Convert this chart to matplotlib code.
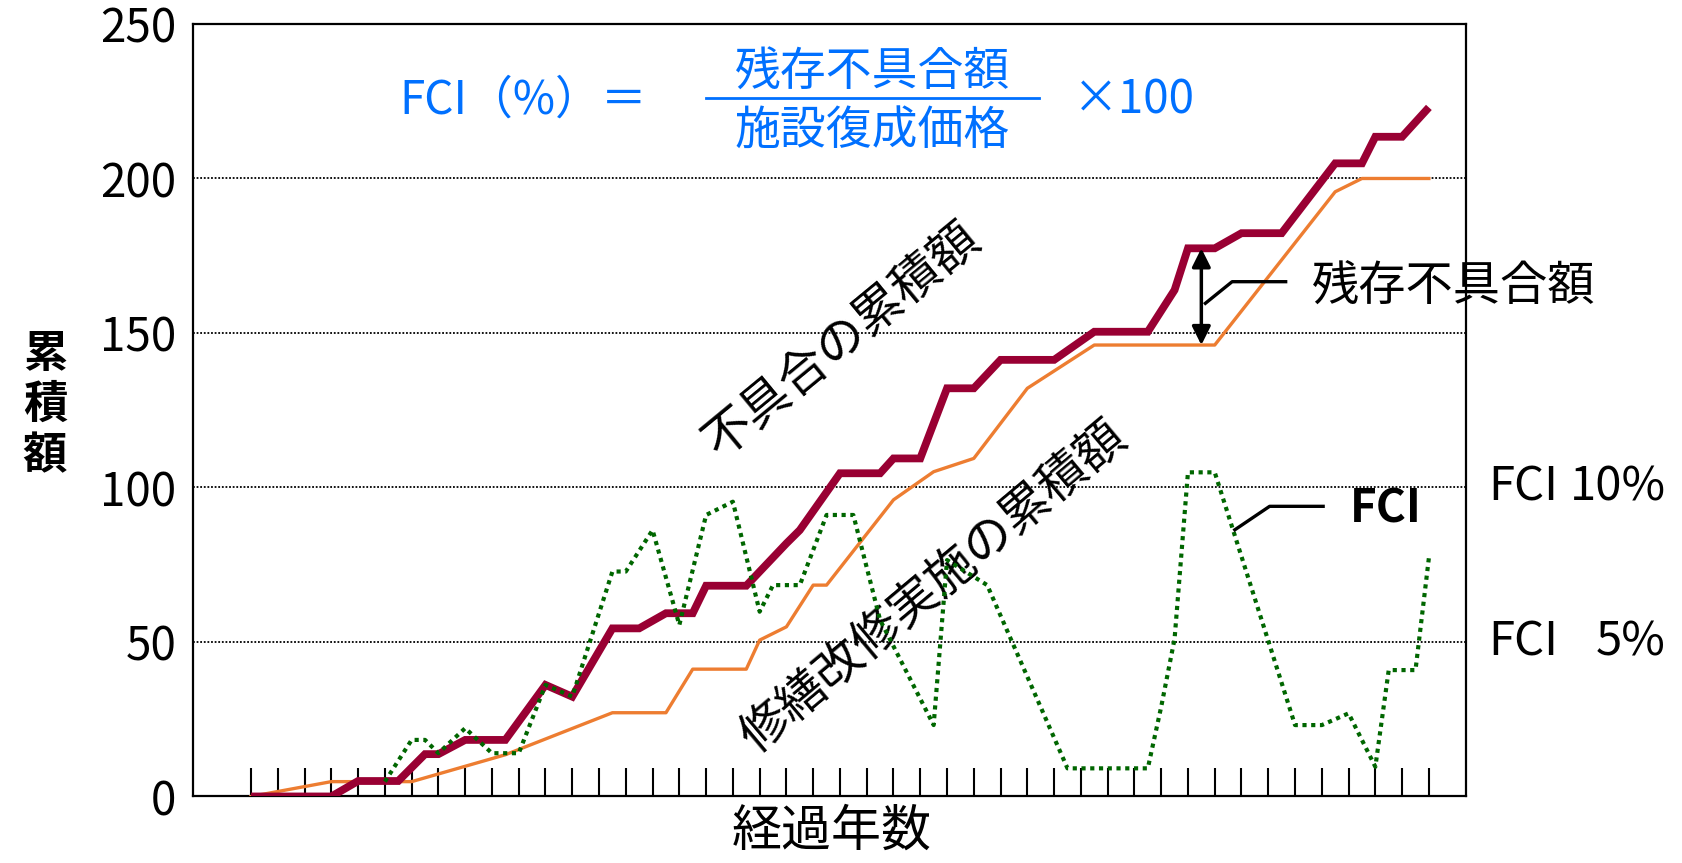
import matplotlib
matplotlib.use("Agg")
import matplotlib.pyplot as plt

plt.rcParams['font.family'] = ['Noto Sans CJK JP', 'DejaVu Sans']

# ── Data (x in years, half-year resolution) ───────────────────────────────
defect_years = [0, 3, 4, 5.5, 6.5, 7, 8, 9.5, 11, 12, 13.5, 14.5, 15.5, 16.5, 17,
                18.5, 20, 20.5, 22, 23.5, 24, 25, 26, 27, 28, 30, 31.5, 33.5, 34.5,
                35, 36, 37, 38.5, 40.5, 41.5, 42, 43, 44]
defect_cum = [0, 0, 5, 5, 13.7, 13.7, 18.3, 18.3, 36.1, 32.3, 54.4, 54.4, 59.3, 59.3,
              68.2, 68.2, 81.9, 86.2, 104.6, 104.6, 109.4, 109.4, 132.1, 132.1, 141.3,
              141.3, 150.4, 150.4, 163.9, 177.4, 177.4, 182.3, 182.3, 204.9, 204.9,
              213.5, 213.5, 223]

repair_years = [0, 3, 6, 9.5, 13.5, 15.5, 16.5, 18.5, 19, 20, 21, 21.5, 24, 25.5, 27,
                29, 31.5, 36, 40.5, 41.5, 44]
repair_cum = [0, 4.8, 4.8, 13.5, 27.1, 27.1, 41.2, 41.2, 50.6, 54.9, 68.4, 68.4, 96.0,
              105.1, 109.4, 132.1, 146.1, 146.1, 195.7, 200, 200]

fci_years = [5, 6, 6.5, 7, 8, 9, 10, 11, 12, 13.5, 14, 15, 16, 17, 18, 19, 19.5, 20.5,
             21.5, 22.5, 23.5, 25.5, 26, 27.5, 30.5, 33.5, 34, 34.5, 35, 36, 39, 40,
             41, 42, 42.5, 43.5, 44]
fci_vals = [4.8, 18.3, 18.3, 14.0, 22.1, 14.0, 14.0, 36.1, 32.3, 72.8, 72.8, 86.2, 55.5,
            91.1, 95.4, 59.8, 68.4, 68.4, 91.1, 91.1, 57.1, 23.1, 76.5, 68.4, 9.1, 9.1,
            29, 51, 104.9, 104.9, 23.1, 23.1, 26.9, 9.6, 40.9, 40.9, 77.2]

n_years = 44
y_ticks = [0, 50, 100, 150, 200, 250]
grid_levels = [50, 100, 150, 200]

RED = '#990033'
ORANGE = '#ED7D31'
GREEN = '#006600'
BLUE = '#0070FF'

# ── Figure ────────────────────────────────────────────────────────────────
fig = plt.figure(figsize=(16.83, 8.63), dpi=100)
ax = fig.add_axes([0.1148, 0.0771, 0.7560, 0.8951])

for lv in grid_levels:
    ax.axhline(lv, color='black', lw=1.3, ls=(0, (1, 1)), zorder=1)

ax.plot(repair_years, repair_cum, color=ORANGE, lw=2.4, zorder=3)
ax.plot(defect_years, defect_cum, color=RED, lw=5.6, zorder=4,
        solid_joinstyle='miter', solid_capstyle='butt')
ax.plot(fci_years, fci_vals, color=GREEN, lw=3.0, ls=(0, (1, 1.1)), zorder=5,
        dash_capstyle='butt')

ax.set_xlim(-2.16, 45.37)
ax.set_ylim(0, 250)
ax.set_xticks(range(n_years + 1))
ax.set_xticklabels([])
ax.tick_params(axis='x', direction='in', length=20, width=1.5, color='black')
ax.set_yticks(y_ticks)
ax.set_yticklabels([str(v) for v in y_ticks], fontsize=33)
ax.tick_params(axis='y', length=0, pad=12)
for s in ax.spines.values():
    s.set_linewidth(1.6)
    s.set_color('black')

# ── Formula ───────────────────────────────────────────────────────────────
ax.text(0.1618, 0.9016, 'FCI（%）＝', transform=ax.transAxes, color=BLUE,
        fontsize=33, ha='left', va='center')
ax.text(0.5339, 0.9366, '残存不具合額', transform=ax.transAxes, color=BLUE,
        fontsize=33, ha='center', va='center')
ax.text(0.5339, 0.8616, '施設復成価格', transform=ax.transAxes, color=BLUE,
        fontsize=33, ha='center', va='center')
ax.plot([0.4029, 0.6648], [0.9036, 0.9036], transform=ax.transAxes, color=BLUE,
        lw=2, clip_on=False)
ax.text(0.6915, 0.9016, '×100', transform=ax.transAxes, color=BLUE,
        fontsize=33, ha='left', va='center')

# ── Series labels ────────────────────────────────────────────────────────
ax.text(22.08, 147.7, '不具合の累積額', fontsize=35, rotation=39.5,
        rotation_mode='anchor', ha='center', va='center')
ax.text(25.48, 67.5, '修繕改修実施の累積額', fontsize=35, rotation=40,
        rotation_mode='anchor', ha='center', va='center')

# Residual arrow + leader
ax.annotate('', xy=(35.5, 177.4), xytext=(35.5, 146.1),
            arrowprops=dict(arrowstyle='<|-|>', lw=2.5, color='black',
                            mutation_scale=28, shrinkA=0, shrinkB=0), zorder=6)
ax.plot([35.65, 36.65, 38.65], [159.6, 166.6, 166.6], color='black', lw=2.4, zorder=6)
ax.text(39.65, 164.6, '残存不具合額', fontsize=34, ha='left', va='center',
        clip_on=False, zorder=7)

# FCI leader
ax.plot([36.75, 38.05, 40.05], [86.3, 93.9, 93.9], color='black', lw=2.4, zorder=6)
ax.text(41.05, 92.9, 'FCI', fontsize=33, fontweight='bold', ha='left', va='center')

# Right-hand FCI level labels
yx = ax.get_yaxis_transform()
ax.text(1.0176, 100, 'FCI', transform=yx, fontsize=34, ha='left', va='center',
        clip_on=False)
ax.text(1.1574, 100, '10%', transform=yx, fontsize=34, ha='right', va='center',
        clip_on=False)
ax.text(1.0176, 50, 'FCI', transform=yx, fontsize=34, ha='left', va='center',
        clip_on=False)
ax.text(1.1574, 50, '5%', transform=yx, fontsize=34, ha='right', va='center',
        clip_on=False)

# Axis titles
fig.text(45 / 1683, 1 - 405 / 863, '累\n積\n額', fontsize=32, ha='center',
         va='center', linespacing=1.15, fontweight='bold')
fig.text(832 / 1683, 1 - 832 / 863, '経過年数', fontsize=36, ha='center', va='center')

fig.savefig('out.png', dpi=100)
